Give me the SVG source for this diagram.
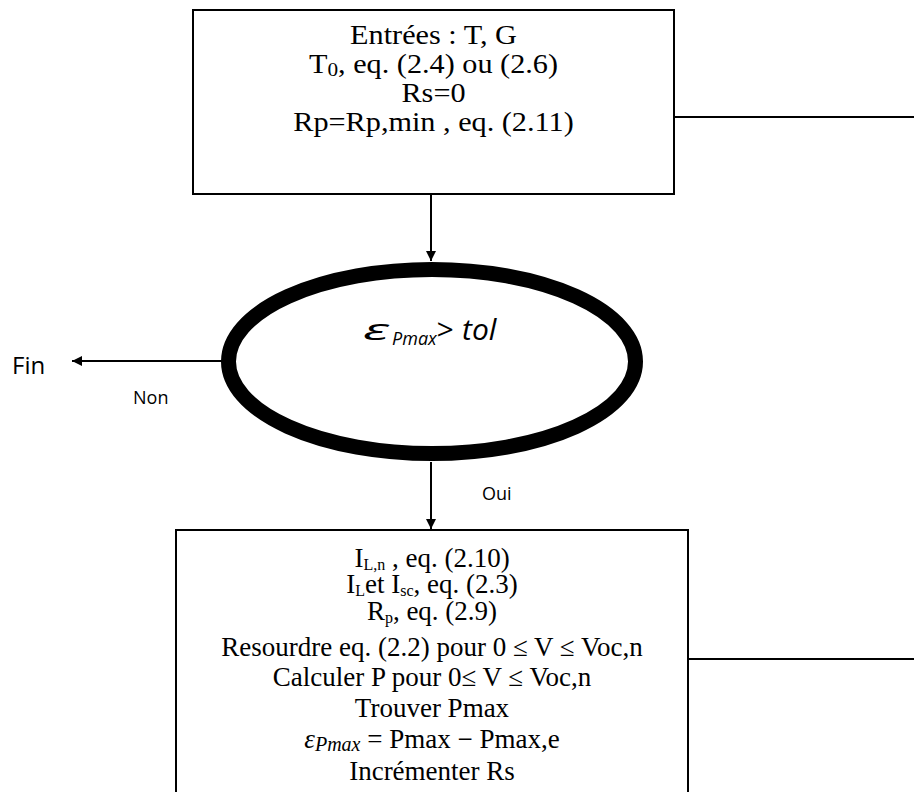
<svg xmlns="http://www.w3.org/2000/svg" width="914" height="792" viewBox="0 0 914 792">
<style>
.box{fill:#fff;stroke:#000;stroke-width:2}
.ln{fill:none;stroke:#000;stroke-width:2}
.ser{font-family:"Liberation Serif","Times New Roman",serif;font-size:27px;fill:#000;text-anchor:middle}
.sans{font-family:"Open Sans","Noto Sans",sans-serif;fill:#000}
.it{font-style:italic}
</style>
<defs>
<marker id="ah" markerUnits="userSpaceOnUse" markerWidth="10" markerHeight="10" refX="10" refY="5" orient="auto">
<path d="M0,0 L10,5 L0,10 z" fill="#000"/>
</marker>
</defs>
<rect width="914" height="792" fill="#fff"/>
<g id="connectors">
<line class="ln" x1="431" y1="195" x2="431" y2="261" marker-end="url(#ah)"/>
<line class="ln" x1="674" y1="117" x2="914" y2="117"/>
<line class="ln" x1="222" y1="361" x2="72" y2="361" marker-end="url(#ah)"/>
<line class="ln" x1="431" y1="462" x2="431" y2="529" marker-end="url(#ah)"/>
<line class="ln" x1="688" y1="659" x2="914" y2="659"/>
<text class="sans" x="133" y="404" font-size="18">Non</text>
<text class="sans" x="482" y="500" font-size="18">Oui</text>
</g>
<g id="fin">
<text class="sans" x="12" y="374" font-size="24">Fin</text>
</g>
<g id="init">
<rect class="box" x="193" y="10" width="481" height="184"/>
<g transform="translate(433.5 0) scale(1.12 1)">
<text class="ser" x="0" y="44" font-size="28">Entrées : T, G</text>
<text class="ser" x="0" y="73" font-size="28">T<tspan font-size="19" dy="3">0</tspan><tspan dy="-3">, eq. (2.4) ou (2.6)</tspan></text>
<text class="ser" x="0" y="102" font-size="28">Rs=0</text>
<text class="ser" x="0" y="131" font-size="28">Rp=Rp,min , eq. (2.11)</text>
</g>
</g>
<g id="test">
<ellipse cx="432" cy="361.5" rx="203.5" ry="92" fill="#fff" stroke="#000" stroke-width="15"/>
<text class="sans it" x="363" y="340" font-size="30" textLength="26" lengthAdjust="spacingAndGlyphs">ε</text>
<text class="sans it" x="392" y="345" font-size="18">Pmax</text>
<text class="sans it" x="436" y="340" font-size="30">&gt;</text>
<text class="sans it" x="462" y="340" font-size="30">tol</text>
</g>
<g id="calc">
<rect class="box" x="176" y="530" width="512" height="280"/>
<text class="ser" x="432" y="567" font-size="26">I<tspan font-size="16" dy="3">L,n</tspan><tspan dy="-3"> , eq. (2.10)</tspan></text>
<text class="ser" x="432" y="593" font-size="26">I<tspan font-size="16" dy="3">L</tspan><tspan dy="-3">et  I</tspan><tspan font-size="16" dy="3">sc</tspan><tspan dy="-3">, eq. (2.3)</tspan></text>
<text class="ser" x="432" y="620" font-size="26">R<tspan font-size="16" dy="3">p</tspan><tspan dy="-3">, eq. (2.9)</tspan></text>
<text class="ser" x="432" y="656">Resourdre  eq. (2.2) pour 0 ≤ V ≤  Voc,n</text>
<text class="ser" x="432" y="686">Calculer P pour 0≤  V ≤ Voc,n</text>
<text class="ser" x="432" y="717">Trouver  Pmax</text>
<text class="ser" x="432" y="748"><tspan font-style="italic">ε</tspan><tspan font-size="20" font-style="italic" dy="3">Pmax</tspan><tspan dy="-3"> = Pmax − Pmax,e</tspan></text>
<text class="ser" x="432" y="780">Incrémenter  Rs</text>
</g>
</svg>
